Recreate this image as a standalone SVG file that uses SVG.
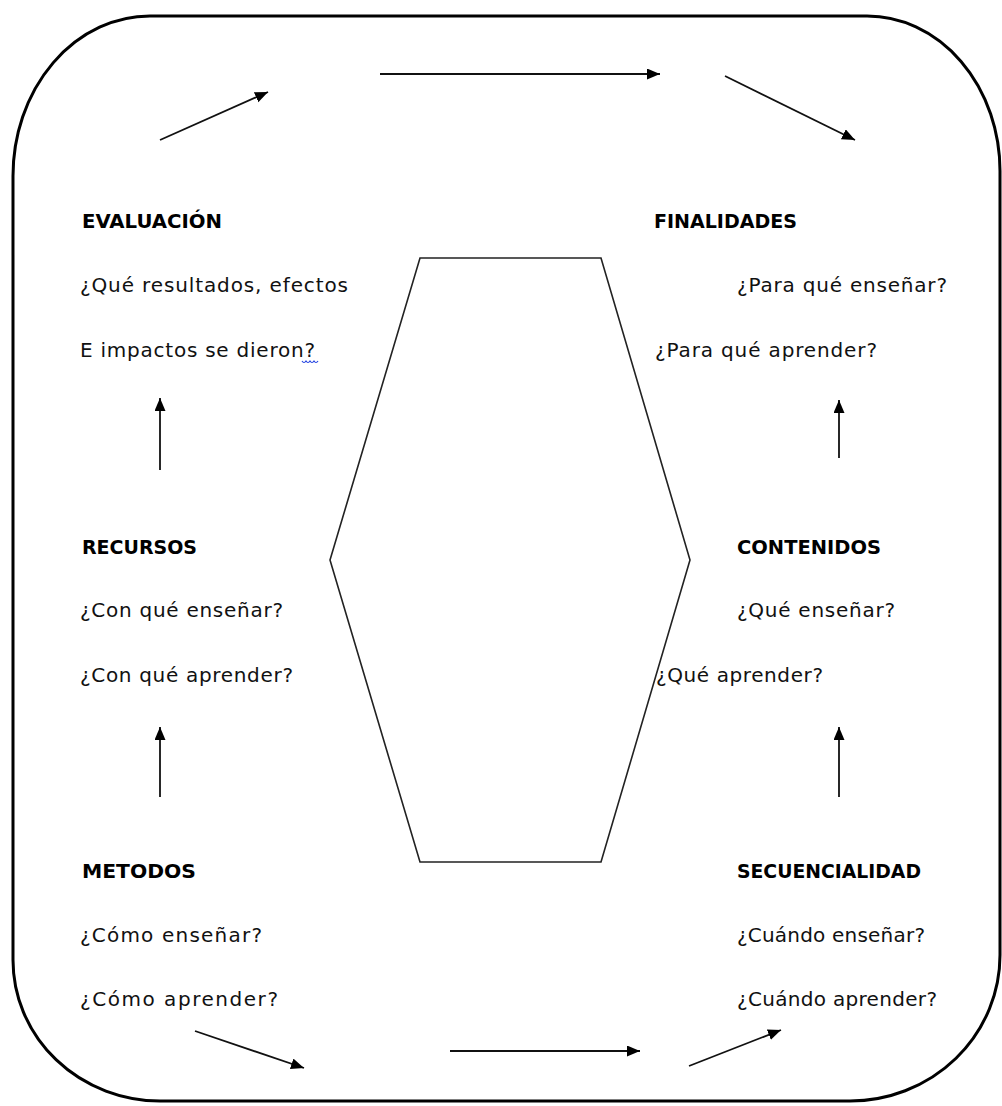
<svg xmlns="http://www.w3.org/2000/svg" width="1002" height="1106" viewBox="0 0 1002 1106">
<style>
.frame{fill:none;stroke:#000;stroke-width:3}
.hex{fill:none;stroke:#222;stroke-width:1.6}
.conn{stroke:#111;stroke-width:1.8;fill:none;marker-end:url(#ah)}
.h{font-family:"DejaVu Sans","Liberation Sans",sans-serif;font-weight:bold;font-size:19px;fill:#000}
.t{font-family:"DejaVu Sans","Liberation Sans",sans-serif;font-size:20px;fill:#111}
</style>
<defs>
<marker id="ah" markerUnits="userSpaceOnUse" markerWidth="14" markerHeight="12" refX="13" refY="5.5" orient="auto">
<path d="M0,0 L13,5.5 L0,11 Z" fill="#000"/>
</marker>
</defs>
<rect width="1002" height="1106" fill="#fff"/>
<path id="frame" class="frame" d="M150,16 L867,16 A133,155 0 0 1 1000,171 L1000,955 A150,146 0 0 1 850,1101 L160,1101 A147,141 0 0 1 13,960 L13,176 A137,160 0 0 1 150,16 Z"/>
<g id="hexagon"><polygon class="hex" points="420,258 601,258 690,560 601,862 420,862 330,560"/></g>
<g id="evaluacion">
<text class="h" x="82" y="228" textLength="140" lengthAdjust="spacingAndGlyphs">EVALUACIÓN</text>
<text class="t" x="80" y="292" textLength="268" lengthAdjust="spacing">¿Qué resultados, efectos</text>
<text class="t" x="80" y="357" textLength="235" lengthAdjust="spacing">E impactos se dieron?</text>
<path d="M302,361 q2,3 4,0 q2,3 4,0 q2,3 4,0 q2,3 4,0" fill="none" stroke="#2040e0" stroke-width="1.2"/>
</g>
<g id="finalidades">
<text class="h" x="654" y="228" textLength="143" lengthAdjust="spacingAndGlyphs">FINALIDADES</text>
<text class="t" x="737" y="292" textLength="210" lengthAdjust="spacing">¿Para qué enseñar?</text>
<text class="t" x="655" y="357" textLength="222" lengthAdjust="spacing">¿Para qué aprender?</text>
</g>
<g id="recursos">
<text class="h" x="82" y="554" textLength="115" lengthAdjust="spacingAndGlyphs">RECURSOS</text>
<text class="t" x="80" y="617" textLength="203" lengthAdjust="spacing">¿Con qué enseñar?</text>
<text class="t" x="80" y="682" textLength="213" lengthAdjust="spacing">¿Con qué aprender?</text>
</g>
<g id="contenidos">
<text class="h" x="737" y="554" textLength="144" lengthAdjust="spacingAndGlyphs">CONTENIDOS</text>
<text class="t" x="737" y="617" textLength="158" lengthAdjust="spacing">¿Qué enseñar?</text>
<text class="t" x="656" y="682" textLength="167" lengthAdjust="spacing">¿Qué aprender?</text>
</g>
<g id="metodos">
<text class="h" x="82" y="878" textLength="114" lengthAdjust="spacingAndGlyphs">METODOS</text>
<text class="t" x="80" y="942" textLength="182" lengthAdjust="spacing">¿Cómo enseñar?</text>
<text class="t" x="80" y="1006" textLength="198" lengthAdjust="spacing">¿Cómo aprender?</text>
</g>
<g id="secuencialidad">
<text class="h" x="737" y="878" textLength="184" lengthAdjust="spacingAndGlyphs">SECUENCIALIDAD</text>
<text class="t" x="737" y="942" textLength="188" lengthAdjust="spacing">¿Cuándo enseñar?</text>
<text class="t" x="737" y="1006" textLength="200" lengthAdjust="spacing">¿Cuándo aprender?</text>
</g>
<g id="connectors">
<line class="conn" x1="160" y1="140" x2="268" y2="92"/>
<line class="conn" x1="380" y1="74" x2="660" y2="74"/>
<line class="conn" x1="725" y1="76" x2="855" y2="140"/>
<line class="conn" x1="160" y1="470" x2="160" y2="398"/>
<line class="conn" x1="160" y1="797" x2="160" y2="727"/>
<line class="conn" x1="839" y1="458" x2="839" y2="400"/>
<line class="conn" x1="839" y1="797" x2="839" y2="727"/>
<line class="conn" x1="195" y1="1031" x2="304" y2="1068"/>
<line class="conn" x1="450" y1="1051" x2="640" y2="1051"/>
<line class="conn" x1="689" y1="1066" x2="781" y2="1030"/>
</g>
</svg>
